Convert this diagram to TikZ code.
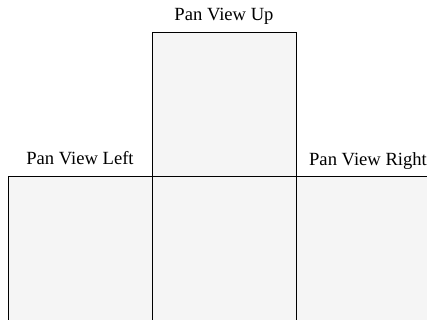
\documentclass[tikz,border=0pt]{standalone}
\usepackage{fontspec}
\setmainfont{Liberation Serif}
\usetikzlibrary{positioning}

\tikzset{
  panbox/.style={draw=black,fill=black!4,line width=0.9pt,minimum width=144pt,minimum height=144pt,inner sep=0pt,outer sep=0pt},
  panlabel/.style={anchor=base,inner sep=0pt,font=\fontsize{18.6}{22}\selectfont}
}

\begin{document}
\begin{tikzpicture}[x=1pt,y=1pt]
\useasboundingbox (0,0) rectangle (427,320);
\node[panbox] (up) at (224,216) {};
\node[panbox,below=0pt of up] (center) {};
\node[panbox,left=0pt of center] (left) {};
\node[panbox,right=0pt of center] (right) {};
\node[panlabel] (uplabel) at ([yshift=11pt]up.north) {Pan View Up};
\node[panlabel] (leftlabel) at ([yshift=11pt]left.north) {Pan View Left};
\node[panlabel] (rightlabel) at ([yshift=10pt]right.north) {Pan View Right};
\end{tikzpicture}
\end{document}
